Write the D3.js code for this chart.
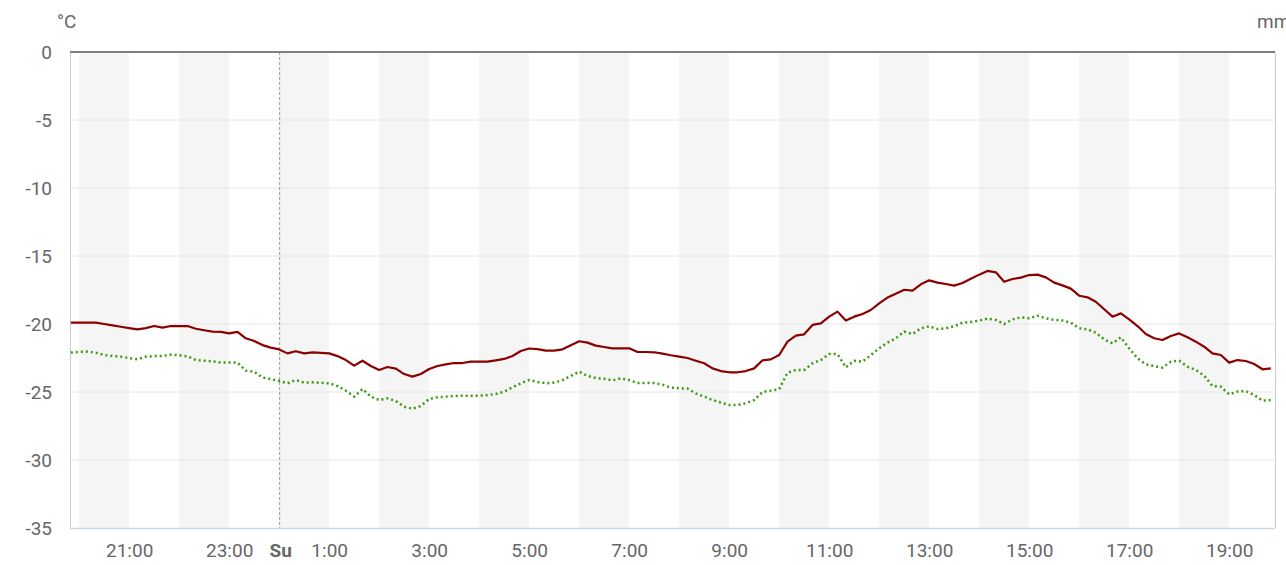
<!DOCTYPE html>
<html>
<head>
<meta charset="utf-8">
<script src="https://cdn.jsdelivr.net/npm/d3@7"></script>
<style>
  html, body { margin: 0; padding: 0; background: #fff; }
  svg { display: block; font-family: Roboto, "Noto Sans", sans-serif; }
</style>
</head>
<body>
<svg id="chart" width="1286" height="565"></svg>
<script>
// ---- DATA ----
// samples every 10 minutes, starting 19:50 (hours expressed as decimal, >24 means next day)
const startHour = 19 + 50 / 60;
const stepHours = 10 / 60;

const temperature = [
  -19.9, -19.9, -19.9, -19.9, -20.0, -20.1, -20.2, -20.3, -20.4, -20.3,
  -20.15, -20.27, -20.15, -20.15, -20.15, -20.35, -20.46, -20.56, -20.58, -20.69,
  -20.58, -21.05, -21.25, -21.55, -21.74, -21.87, -22.16, -22.0, -22.16, -22.08,
  -22.12, -22.16, -22.36, -22.65, -23.06, -22.7, -23.09, -23.38, -23.16, -23.28,
  -23.68, -23.87, -23.68, -23.31, -23.09, -22.97, -22.87, -22.87, -22.77, -22.77,
  -22.77, -22.67, -22.57, -22.35, -21.99, -21.8, -21.85, -21.96, -21.96, -21.86,
  -21.57, -21.27, -21.37, -21.59, -21.69, -21.79, -21.79, -21.79, -22.06, -22.06,
  -22.08, -22.18, -22.3, -22.4, -22.5, -22.7, -22.89, -23.26, -23.46, -23.55,
  -23.55, -23.46, -23.26, -22.67, -22.6, -22.28, -21.3, -20.86, -20.76, -20.07,
  -19.95, -19.46, -19.09, -19.75, -19.46, -19.26, -18.97, -18.48, -18.06, -17.77,
  -17.48, -17.55, -17.08, -16.79, -16.96, -17.06, -17.18, -16.99, -16.67, -16.37,
  -16.1, -16.2, -16.89, -16.69, -16.59, -16.4, -16.37, -16.57, -16.96, -17.16,
  -17.4, -17.92, -18.04, -18.36, -18.92, -19.46, -19.22, -19.66, -20.15, -20.74,
  -21.05, -21.18, -20.88, -20.69, -20.98, -21.3, -21.67, -22.16, -22.28, -22.84,
  -22.65, -22.72, -22.94, -23.33, -23.26
];

const dewPoint = [
  -22.1, -22.05, -22.03, -22.12, -22.28, -22.35, -22.4, -22.5, -22.6, -22.4,
  -22.36, -22.35, -22.25, -22.3, -22.38, -22.65, -22.7, -22.75, -22.84, -22.84,
  -22.84, -23.43, -23.5, -23.94, -24.05, -24.19, -24.36, -24.12, -24.31, -24.29,
  -24.32, -24.36, -24.56, -24.9, -25.34, -24.78, -25.34, -25.59, -25.47, -25.66,
  -26.08, -26.23, -26.03, -25.51, -25.39, -25.34, -25.3, -25.27, -25.27, -25.27,
  -25.22, -25.15, -24.97, -24.66, -24.36, -24.12, -24.26, -24.36, -24.31, -24.12,
  -23.82, -23.5, -23.82, -23.97, -24.02, -24.14, -24.0, -24.12, -24.34, -24.34,
  -24.34, -24.46, -24.68, -24.72, -24.75, -25.1, -25.34, -25.59, -25.78, -25.96,
  -25.96, -25.83, -25.59, -25.0, -24.9, -24.8, -23.58, -23.38, -23.38, -22.89,
  -22.65, -22.21, -22.21, -23.19, -22.7, -22.77, -22.28, -21.79, -21.37, -21.05,
  -20.56, -20.74, -20.32, -20.17, -20.37, -20.32, -20.17, -19.9, -19.85, -19.75,
  -19.6, -19.7, -20.0, -19.66, -19.51, -19.58, -19.39, -19.58, -19.7, -19.75,
  -19.9, -20.32, -20.39, -20.64, -21.13, -21.42, -20.98, -21.79, -22.52, -22.97,
  -23.09, -23.21, -22.77, -22.7, -23.14, -23.38, -23.8, -24.56, -24.61, -25.17,
  -24.97, -24.93, -25.22, -25.64, -25.59
];

const yTicks = [0, -5, -10, -15, -20, -25, -30, -35];
// x tick positions in hours since start day 00:00 (24 = midnight "Su")
const xTicks = [21, 23, 24, 25, 27, 29, 31, 33, 35, 37, 39, 41, 43];
const xTickLabels = ["21:00", "23:00", "Su", "1:00", "3:00", "5:00", "7:00", "9:00",
                     "11:00", "13:00", "15:00", "17:00", "19:00"];
// shaded hour bands (start hour, one hour wide)
const bandStarts = [20, 22, 24, 26, 28, 30, 32, 34, 36, 38, 40, 42];
const domainStart = 19 + 49 / 60;
const domainEnd = 43 + 55 / 60;

// ---- LAYOUT ----
const pL = 70, pR = 1275, pT = 52, pB = 528;
const svg = d3.select("#chart");
const FS = "19px";

const x = d3.scaleLinear().domain([domainStart, domainEnd]).range([pL, pR]);
const y = d3.scaleLinear().domain([-35, 0]).range([pB, pT]);

// bands
svg.append("g").selectAll("rect").data(bandStarts).join("rect")
  .attr("x", d => x(d)).attr("y", pT)
  .attr("width", d => x(d + 1) - x(d)).attr("height", pB - pT)
  .attr("fill", "#f5f5f5");

// grid lines
svg.append("g").selectAll("line").data(yTicks.filter(d => d !== 0 && d !== -35)).join("line")
  .attr("x1", pL).attr("x2", pR)
  .attr("y1", d => y(d)).attr("y2", d => y(d))
  .attr("stroke", "#e6e6e6").attr("stroke-width", 1);

// midnight dashed line
svg.append("line")
  .attr("x1", x(24) + 0.5).attr("x2", x(24) + 0.5)
  .attr("y1", pT).attr("y2", pB)
  .attr("stroke", "#999").attr("stroke-width", 1).attr("stroke-dasharray", "3,2");

// borders
svg.append("line").attr("x1", pL + 0.5).attr("x2", pL + 0.5).attr("y1", pT).attr("y2", pB)
  .attr("stroke", "#cccccc");
svg.append("line").attr("x1", pR + 0.5).attr("x2", pR + 0.5).attr("y1", pT).attr("y2", pB)
  .attr("stroke", "#cccccc");
svg.append("line").attr("x1", pL).attr("x2", pR).attr("y1", pB + 0.5).attr("y2", pB + 0.5)
  .attr("stroke", "#ccd6eb").attr("stroke-width", 1.5);

// y axis labels
const yAxis = d3.axisLeft(y).tickValues(yTicks).tickSize(0).tickPadding(18)
  .tickFormat(d => String(d));
const gy = svg.append("g").attr("transform", `translate(${pL},0)`).call(yAxis);
gy.select(".domain").remove();
gy.selectAll("text").attr("fill", "#666666").style("font-size", FS)
  .style("font-family", "Roboto, sans-serif");

// x axis labels
const xAxis = d3.axisBottom(x).tickValues(xTicks).tickSize(0).tickPadding(16)
  .tickFormat((d, i) => xTickLabels[i]);
const gx = svg.append("g").attr("transform", `translate(0,${pB})`).call(xAxis);
gx.select(".domain").remove();
gx.selectAll("text").attr("fill", "#666666").style("font-size", FS)
  .style("font-family", "Roboto, sans-serif")
  .style("font-weight", (d, i) => xTickLabels[i] === "Su" ? "bold" : "normal")
  .attr("dx", (d, i) => xTickLabels[i] === "Su" ? "1" : "0");

// units
svg.append("text").attr("x", 57).attr("y", 28).text("°C")
  .attr("fill", "#666666").style("font-size", FS);
svg.append("text").attr("x", 1257).attr("y", 28).text("mm")
  .attr("fill", "#666666").style("font-size", FS);

// line at 0
svg.append("line").attr("x1", pL).attr("x2", pR).attr("y1", y(0)).attr("y2", y(0))
  .attr("stroke", "#808080").attr("stroke-width", 2);

// series
const hourAt = i => startHour + i * stepHours;
const line = d3.line().x((d, i) => x(hourAt(i))).y(d => y(d));

svg.append("path").datum(dewPoint)
  .attr("d", line).attr("fill", "none")
  .attr("stroke", "#3a9a10").attr("stroke-width", 2.5)
  .attr("stroke-dasharray", "2,3");

svg.append("path").datum(temperature)
  .attr("d", line).attr("fill", "none")
  .attr("stroke", "#8b0000").attr("stroke-width", 2.2)
  .attr("stroke-linejoin", "round");
</script>
</body>
</html>
